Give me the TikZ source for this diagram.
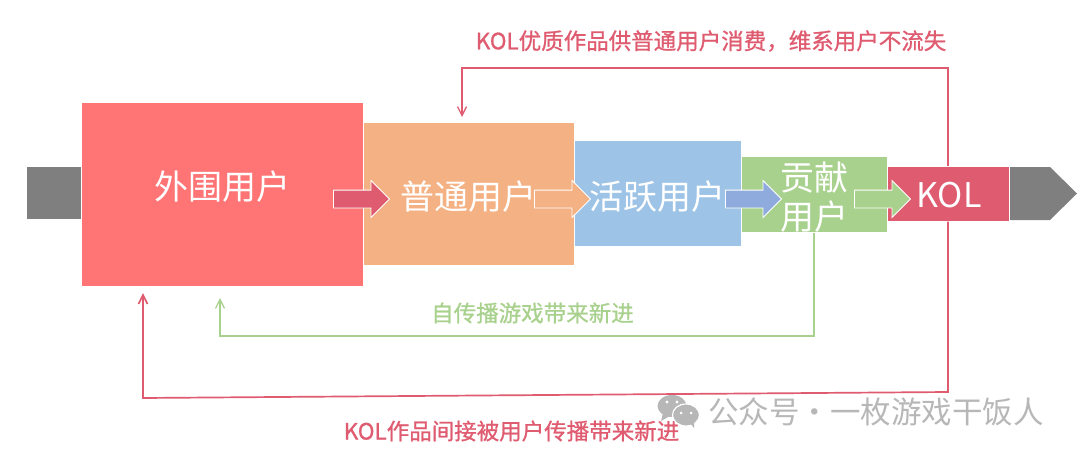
\documentclass[tikz,border=0pt]{standalone}
\usepackage{fontspec}
\setmainfont{Noto Sans CJK SC}
\newfontfamily\loopfont[FakeBold=1]{Noto Sans CJK SC}
\usetikzlibrary{arrows.meta,shapes.arrows}
\definecolor{fnred}{RGB}{255,117,117}
\definecolor{fnorange}{RGB}{244,177,131}
\definecolor{fnblue}{RGB}{157,195,230}
\definecolor{fngreen}{RGB}{169,209,142}
\definecolor{fnrose}{RGB}{223,91,112}
\definecolor{fnindigo}{RGB}{143,170,220}
\definecolor{fngray}{RGB}{127,127,127}
\definecolor{fnmark}{RGB}{183,183,183}
\begin{document}
\begin{tikzpicture}[
    x=1pt,
    y=-1pt,
    >={Straight Barb[length=9pt,width=9pt]},
    % Stage boxes: the funnel narrows from left to right.
    box/.style={
        draw=white,
        line width=0.4pt,
        inner sep=0pt,
        minimum width=#1
    },
    boxtext/.style={
        text=white,
        inner sep=0pt,
        align=center,
        font=\fontsize{34}{39}\selectfont
    },
    flowarrow/.style={
        single arrow,
        draw=white,
        line width=0.8pt,
        inner sep=8.5pt,
        minimum width=36pt,
        minimum height=56pt,
        single arrow head extend=9.5pt,
        single arrow tip angle=90
    },
    loopline/.style={line width=1.3pt, draw=fnrose},
    greenline/.style={line width=1.3pt, draw=fngreen},
    looptext/.style={font=\fontsize{22.5}{27}\loopfont, inner sep=0pt}
]
    \useasboundingbox (0,0) rectangle (1080,455);

    \node[box=55pt, minimum height=53pt, fill=fngray] (tail) at (53.5,193) {};
    \fill[fngray] (1010,167) -- (1050,167) -- (1077,193.5) -- (1050,220) -- (1010,220) -- cycle;
    \coordinate (head) at (1010,193);

    \node[box=282pt, minimum height=184pt, fill=fnred] (outer) at (222.5,194.5) {};
    \node[box=211pt, minimum height=143pt, fill=fnorange] (normal) at (468.5,194) {};
    \node[box=167pt, minimum height=106pt, fill=fnblue] (active) at (657.5,193.5) {};
    \node[box=146pt, minimum height=76pt, fill=fngreen] (contrib) at (814,194.5) {};
    \node[box=122pt, minimum height=55pt, fill=fnrose] (kol) at (948,194) {};

    \node[boxtext] (outerlabel) at (222,187) {外围用户};
    \node[boxtext] (normallabel) at (468.5,197) {普通用户};
    \node[boxtext] (activelabel) at (657,197) {活跃用户};
    \node[boxtext] (contriblabel) at (814,197) {贡献\\用户};
    \node[boxtext] (kollabel) at (949,195) {KOL};

    \node[flowarrow, fill=fnrose] (arrowa) at (357,199) {};
    \node[flowarrow, fill=fnorange] (arrowb) at (558,199) {};
    \node[flowarrow, fill=fnindigo] (arrowc) at (749,199) {};
    \node[flowarrow, fill=fngreen] (arrowd) at (878,199) {};

    % Feedback loops go back to the earlier stages.
    \coordinate (normaltop) at (462,117);
    \coordinate (outerbottom) at (143,293);
    \coordinate (outergap) at (220,298);
    \draw[loopline, ->] (kol.north) -- (948,68) -- (462,68) -- (normaltop);
    \draw[loopline, line width=1.7pt, ->] (kol.south) -- (948,392) -- (143,398) -- (outerbottom);
    \draw[greenline, ->] (contrib.south) -- (814,336) -- (220,336) -- (outergap);

    \node[looptext, text=fnrose] (toplabel) at (711,41) {KOL优质作品供普通用户消费，维系用户不流失};
    \node[looptext, text=fngreen] (greenlabel) at (532.5,313) {自传播游戏带来新进};
    \node[looptext, text=fnrose] (bottomlabel) at (511.5,431) {KOL作品间接被用户传播带来新进};

    % Watermark in the lower right corner.
    \fill[fnmark] (672,406) ellipse (14.5pt and 11pt);
    \fill[fnmark] (663,413) -- (661,421) -- (670,416) -- cycle;
    \fill[fnmark, draw=white, line width=1.2pt] (686,415) ellipse (13.5pt and 11pt);
    \fill[fnmark] (690,423) -- (694,428) -- (694,421) -- cycle;
    \foreach \p in {667,677} {
        \fill[white] (\p,402) circle (1.7pt);
    }
    \foreach \p in {681,691} {
        \fill[white] (\p,413) circle (1.5pt);
    }
    \node[inner sep=0pt, text=fnmark, font=\fontsize{30.5}{36}\selectfont] (mark) at (876,412) {公众号·一枚游戏干饭人};
\end{tikzpicture}
\end{document}
